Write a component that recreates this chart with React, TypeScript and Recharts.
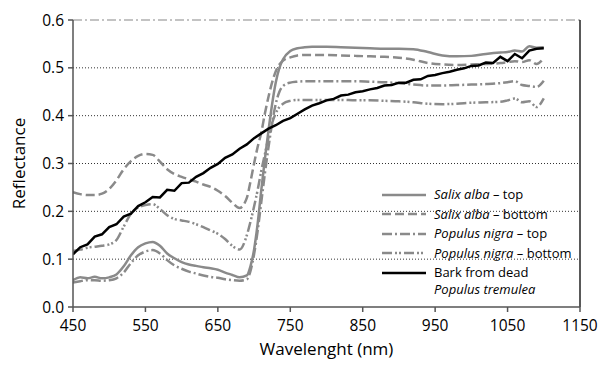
import React from 'react';
import {
  LineChart,
  Line,
  XAxis,
  YAxis,
  Legend,
  ReferenceLine
} from 'recharts';

// wavelengths (nm) shared by the four leaf spectra
const leafWl = [
  450, 460, 470, 480, 490, 500, 510, 520, 530, 540, 550, 560, 570, 580, 590, 600, 610, 620, 630, 640,
  650, 660, 670, 680, 690, 695, 700, 705, 710, 715, 720, 725, 730, 735, 740, 750, 760, 770, 780,
  800, 820, 840, 860, 880, 900, 920, 940, 960, 980, 1000, 1020, 1040, 1050, 1060, 1070, 1080, 1090, 1100
];

const salixTop = [
  0.056, 0.062, 0.060, 0.063, 0.060, 0.062, 0.068, 0.085, 0.108, 0.125, 0.133, 0.136, 0.128, 0.112, 0.102, 0.094, 0.089, 0.086, 0.083, 0.081,
  0.078, 0.072, 0.067, 0.062, 0.066, 0.085, 0.120, 0.175, 0.245, 0.310, 0.370, 0.425, 0.470, 0.500, 0.518, 0.535, 0.541, 0.543, 0.544,
  0.544, 0.543, 0.542, 0.541, 0.540, 0.540, 0.539, 0.533, 0.526, 0.524, 0.525, 0.529, 0.532, 0.533, 0.536, 0.534, 0.545, 0.542, 0.543
];

const salixBottom = [
  0.240, 0.236, 0.234, 0.234, 0.237, 0.247, 0.265, 0.288, 0.305, 0.316, 0.320, 0.318, 0.304, 0.288, 0.278, 0.272, 0.267, 0.262, 0.256, 0.251,
  0.243, 0.232, 0.218, 0.207, 0.228, 0.262, 0.300, 0.335, 0.365, 0.405, 0.440, 0.470, 0.493, 0.507, 0.515, 0.522, 0.526, 0.527, 0.527,
  0.527, 0.526, 0.525, 0.524, 0.523, 0.521, 0.517, 0.510, 0.507, 0.506, 0.507, 0.508, 0.510, 0.512, 0.514, 0.512, 0.516, 0.508, 0.520
];

const populusTop = [
  0.051, 0.054, 0.056, 0.056, 0.055, 0.056, 0.060, 0.072, 0.092, 0.108, 0.116, 0.119, 0.112, 0.098, 0.087, 0.080, 0.074, 0.070, 0.066, 0.063,
  0.061, 0.058, 0.056, 0.055, 0.058, 0.075, 0.110, 0.160, 0.220, 0.280, 0.335, 0.385, 0.425, 0.450, 0.462, 0.469, 0.471, 0.472, 0.472,
  0.472, 0.472, 0.472, 0.471, 0.470, 0.468, 0.465, 0.463, 0.463, 0.464, 0.465, 0.466, 0.468, 0.470, 0.472, 0.464, 0.462, 0.460, 0.473
];

const populusBottom = [
  0.117, 0.120, 0.124, 0.126, 0.128, 0.131, 0.140, 0.168, 0.195, 0.208, 0.213, 0.215, 0.205, 0.192, 0.184, 0.181, 0.178, 0.173, 0.167, 0.160,
  0.153, 0.142, 0.128, 0.120, 0.150, 0.178, 0.210, 0.245, 0.285, 0.320, 0.355, 0.385, 0.405, 0.418, 0.425, 0.431, 0.433, 0.433, 0.433,
  0.433, 0.433, 0.432, 0.432, 0.431, 0.430, 0.428, 0.425, 0.424, 0.425, 0.427, 0.428, 0.429, 0.432, 0.436, 0.428, 0.430, 0.418, 0.436
];

// bark spectrum, 10 nm steps from 450 to 1100
const barkWl = [
  450, 460, 470, 480, 490, 500, 510, 520, 530, 540, 550, 560, 570, 580, 590, 600, 610, 620, 630, 640,
  650, 660, 670, 680, 690, 700, 710, 720, 730, 740, 750, 760, 770, 780, 790, 800, 810, 820, 830, 840,
  850, 860, 870, 880, 890, 900, 910, 920, 930, 940, 950, 960, 970, 980, 990, 1000, 1010, 1020, 1030, 1040,
  1050, 1060, 1070, 1080, 1090, 1100
];
const bark = [
  0.110, 0.125, 0.131, 0.147, 0.152, 0.167, 0.173, 0.189, 0.195, 0.211, 0.219, 0.230, 0.229, 0.245, 0.243, 0.259, 0.260, 0.272, 0.280, 0.291,
  0.299, 0.312, 0.319, 0.331, 0.340, 0.353, 0.363, 0.373, 0.380, 0.389, 0.395, 0.404, 0.413, 0.421, 0.426, 0.432, 0.435, 0.442, 0.444, 0.449,
  0.451, 0.455, 0.458, 0.463, 0.464, 0.469, 0.469, 0.475, 0.476, 0.483, 0.485, 0.489, 0.492, 0.496, 0.499, 0.504, 0.505, 0.511, 0.510, 0.523,
  0.514, 0.529, 0.520, 0.536, 0.540, 0.541
];

const xTicks = [450, 550, 650, 750, 850, 950, 1050, 1150];
const yTicks = [0, 0.1, 0.2, 0.3, 0.4, 0.5, 0.6];
const gridLines = [0.1, 0.2, 0.3, 0.4, 0.5];

const toPoints = (wl: number[], r: number[]) => wl.map((w, i) => ({ wl: w, r: r[i] }));

const FONT = '"Open Sans", sans-serif';
const GREY = '#8a8a8a';

const series = [
  { key: 'st', name: 'Salix alba', suffix: ' – top', data: toPoints(leafWl, salixTop), color: GREY, dash: undefined },
  { key: 'sb', name: 'Salix alba', suffix: ' – bottom', data: toPoints(leafWl, salixBottom), color: GREY, dash: '9 4' },
  { key: 'pt', name: 'Populus nigra', suffix: ' – top', data: toPoints(leafWl, populusTop), color: GREY, dash: '10 3 2 3' },
  { key: 'pb', name: 'Populus nigra', suffix: ' – bottom', data: toPoints(leafWl, populusBottom), color: GREY, dash: '10 3 2 2 2 3' }
];

const LegendBox = () => (
  <div style={{ fontFamily: FONT, fontSize: 13, color: '#000', lineHeight: '19.5px' }}>
    {series.map(s => (
      <div key={s.key} style={{ display: 'flex', alignItems: 'center', height: 19.5 }}>
        <svg width={44} height={6} style={{ marginRight: 8 }}>
          <line x1={0} y1={3} x2={44} y2={3} stroke={s.color} strokeWidth={2.5} strokeDasharray={s.dash} />
        </svg>
        <span><i>{s.name}</i>{s.suffix}</span>
      </div>
    ))}
    <div style={{ display: 'flex', alignItems: 'flex-start' }}>
      <svg width={44} height={19} style={{ marginRight: 8 }}>
        <line x1={0} y1={10} x2={44} y2={10} stroke="#000" strokeWidth={2.5} />
      </svg>
      <span style={{ lineHeight: '17px', paddingTop: 1 }}>
        Bark from dead<br /><i>Populus tremulea</i>
      </span>
    </div>
  </div>
);

export default function App() {
  return (
    <div style={{ position: 'absolute', left: 0, top: 0, background: '#fff' }}>
      <LineChart width={598} height={365} margin={{ top: 20, right: 18, bottom: 0, left: 0 }}>
        <XAxis
          type="number"
          dataKey="wl"
          domain={[450, 1150]}
          ticks={xTicks}
          allowDataOverflow
          height={58}
          tickSize={5}
          tickMargin={8}
          stroke="#555"
          strokeWidth={1.5}
          tick={{ fill: '#000', fontSize: 15.5, fontFamily: FONT }}
          label={{ value: 'Wavelenght (nm)', position: 'insideBottom', offset: 10, fill: '#000', fontSize: 17, fontFamily: FONT }}
        />
        <YAxis
          type="number"
          domain={[0, 0.6]}
          ticks={yTicks}
          width={73}
          tickSize={5}
          tickMargin={4}
          stroke="#555"
          strokeWidth={1.5}
          tickFormatter={(v: number) => v.toFixed(1)}
          tick={{ fill: '#000', fontSize: 15.5, fontFamily: FONT }}
          label={{ value: 'Reflectance', angle: -90, position: 'insideLeft', offset: 19, fill: '#000', fontSize: 17, fontFamily: FONT, style: { textAnchor: 'middle' } }}
        />
        {gridLines.map(g => (
          <ReferenceLine key={g} y={g} stroke="#333" strokeDasharray="1 2" strokeWidth={1} />
        ))}
        <ReferenceLine y={0.6} stroke="#b0b0b0" strokeDasharray="9 3 2 3" strokeWidth={1.5} />
        <ReferenceLine x={1150} stroke="#222" strokeWidth={1.5} />
        {series.map(s => (
          <Line
            key={s.key}
            data={s.data}
            dataKey="r"
            type="monotone"
            stroke={s.color}
            strokeWidth={2.5}
            strokeDasharray={s.dash}
            dot={false}
            isAnimationActive={false}
          />
        ))}
        <Line
          data={toPoints(barkWl, bark)}
          dataKey="r"
          type="linear"
          stroke="#000"
          strokeWidth={2.5}
          dot={false}
          isAnimationActive={false}
        />
        <Legend
          layout="vertical"
          align="center"
          verticalAlign="middle"
          content={() => <LegendBox />}
          wrapperStyle={{ left: 382, top: 185, width: 210 }}
        />
      </LineChart>
    </div>
  );
}
